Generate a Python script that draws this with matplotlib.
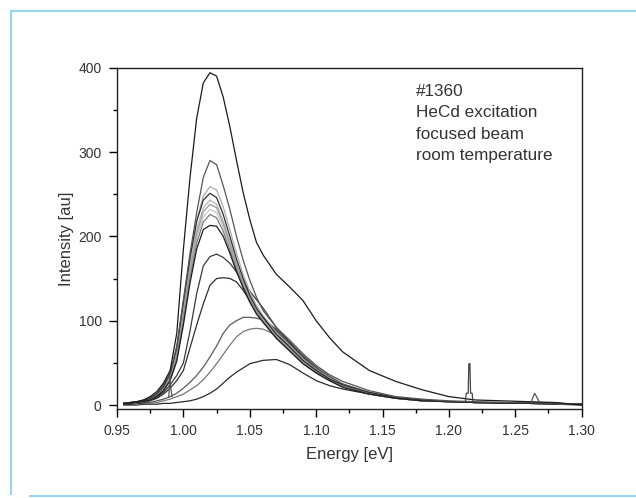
import matplotlib.pyplot as plt
from matplotlib.lines import Line2D
from matplotlib.ticker import MultipleLocator

plt.rcParams["font.family"] = ["Liberation Sans", "DejaVu Sans"]

# energy grid shared by all spectra [eV]
energy = [0.955, 0.960, 0.965, 0.970, 0.975, 0.980, 0.985, 0.990, 0.995, 1.000,
          1.005, 1.010, 1.015, 1.020, 1.025, 1.030, 1.035, 1.040, 1.045, 1.050,
          1.055, 1.060, 1.070, 1.080, 1.090, 1.100, 1.110, 1.120, 1.140, 1.160,
          1.180, 1.200, 1.220, 1.240, 1.260, 1.280, 1.300]

# intensity [au] of each spectrum
top = [2, 3, 4, 6, 10, 16, 26, 41, 85, 185, 270, 340, 382, 394, 390, 365, 330, 290, 252, 220,
       193, 178, 155, 140, 124, 100, 80, 63, 41, 28, 18, 10, 6, 5, 4, 3, 0]
second = [2, 3, 4, 6, 9, 14, 24, 38, 70, 125, 180, 228, 270, 290, 285, 260, 232, 200, 172, 148,
          128, 112, 92, 77, 61, 47, 36, 28, 17, 10, 7, 5, 4, 3, 3, 2, 1]
b1 = [2, 3, 4, 5, 8, 13, 22, 36, 65, 118, 172, 218, 248, 259, 255, 235, 208, 180, 155, 134,
      118, 106, 86, 71, 55, 42, 32, 24, 15, 9, 6, 4, 3, 3, 2, 2, 1]
b2 = [2, 3, 4, 5, 8, 13, 22, 37, 68, 122, 175, 218, 243, 251, 246, 226, 200, 173, 150, 130,
      115, 104, 84, 69, 53, 41, 31, 24, 15, 9, 6, 4, 3, 3, 2, 2, 1]
b3 = [2, 2, 3, 5, 7, 12, 20, 34, 62, 112, 165, 208, 234, 243, 238, 218, 194, 168, 146, 128,
      113, 102, 83, 68, 53, 40, 31, 23, 14, 9, 6, 4, 3, 2, 2, 2, 1]
b4 = [2, 2, 3, 5, 7, 12, 20, 33, 60, 108, 160, 203, 229, 238, 234, 215, 191, 166, 145, 127,
      112, 101, 82, 67, 52, 40, 30, 23, 14, 9, 6, 4, 3, 2, 2, 2, 1]
b5 = [2, 2, 3, 4, 7, 11, 19, 32, 58, 104, 155, 198, 223, 232, 228, 211, 188, 164, 143, 125,
      111, 100, 81, 66, 51, 39, 30, 22, 14, 8, 5, 4, 3, 2, 2, 2, 1]
b6 = [2, 2, 3, 4, 6, 11, 18, 30, 55, 100, 150, 192, 217, 226, 222, 206, 184, 161, 141, 124,
      110, 99, 80, 65, 50, 38, 29, 22, 13, 8, 5, 4, 3, 2, 2, 2, 1]
b7 = [2, 2, 3, 4, 6, 10, 17, 29, 52, 95, 145, 185, 208, 213, 212, 200, 180, 158, 139, 122,
      108, 98, 79, 64, 49, 38, 29, 21, 13, 8, 5, 4, 3, 2, 2, 2, 1]
c180 = [1, 2, 3, 4, 6, 9, 15, 24, 35, 50, 88, 132, 165, 176, 179, 175, 168, 158, 147, 135,
        125, 115, 92, 74, 57, 43, 32, 24, 14, 9, 6, 4, 3, 2, 2, 2, 1]
c152 = [1, 1, 2, 3, 5, 8, 13, 20, 29, 41, 68, 95, 120, 142, 150, 151, 150, 146, 136, 124,
        113, 104, 88, 72, 56, 42, 31, 23, 14, 8, 5, 4, 3, 2, 2, 1, 1]
c106 = [1, 1, 2, 2, 3, 5, 7, 10, 14, 20, 27, 35, 45, 57, 70, 85, 95, 100, 104, 104,
        103, 101, 90, 75, 59, 45, 34, 25, 15, 9, 6, 4, 3, 2, 2, 1, 1]
c93 = [0, 1, 1, 2, 2, 3, 5, 7, 10, 13, 18, 23, 30, 39, 49, 60, 71, 81, 87, 90,
       91, 90, 83, 72, 58, 45, 34, 25, 14, 9, 6, 4, 3, 2, 2, 1, 1]
c55 = [0, 0, 0, 1, 1, 1, 2, 2, 3, 4, 5, 7, 10, 14, 19, 26, 33, 39, 44, 49,
       51, 53, 54, 48, 38, 29, 23, 19, 13, 8, 5, 4, 3, 2, 2, 1, 0]

spectra = [c55, c93, c106, c152, c180, b5, b3, b1, b4, b6, b7, b2, second, top]
colors = ["#2a2a2a", "#777777", "#5a5a5a", "#2e2e2e", "#3a3a3a", "#c8c8c8", "#b4b4b4",
          "#acacac", "#9c9c9c", "#7a7a7a", "#1c1c1c", "#2c2c2c", "#555555", "#1a1a1a"]

# narrow laser / plasma lines
spike1_e = [0.9890, 0.9898, 0.9905, 0.9915]
spike1_i = [9, 34, 20, 10]
spike2_e = [1.2125, 1.2130, 1.2145, 1.2150, 1.2158, 1.2163, 1.2175, 1.2180]
spike2_i = [5, 14, 14, 49, 49, 14, 14, 5]
spike3_e = [1.2620, 1.2645, 1.2660, 1.2680]
spike3_i = [4, 14, 10, 4]

fig = plt.figure(figsize=(6.36, 4.98), dpi=100)
ax = fig.add_axes([0.184, 0.1787, 0.7306, 0.6854])

for spec, col in zip(spectra, colors):
    ax.plot(energy, spec, color=col, lw=0.9)
ax.plot(spike1_e, spike1_i, color="#555555", lw=0.9)
ax.plot(spike2_e, spike2_i, color="#444444", lw=0.9)
ax.plot(spike3_e, spike3_i, color="#555555", lw=0.9)

ax.set_xlim(0.95, 1.30)
ax.set_ylim(-4.7, 400)
ax.xaxis.set_major_locator(MultipleLocator(0.05))
ax.xaxis.set_minor_locator(MultipleLocator(0.025))
ax.yaxis.set_major_locator(MultipleLocator(100))
ax.yaxis.set_minor_locator(MultipleLocator(50))
ax.xaxis.set_major_formatter(plt.FormatStrFormatter("%.2f"))
ax.tick_params(which="major", direction="out", length=6, width=1, labelsize=10,
               labelcolor="#333333", pad=5)
ax.tick_params(which="minor", direction="out", length=3, width=1)
for s in ax.spines.values():
    s.set_linewidth(1.0)
    s.set_color("#222222")

ax.set_xlabel("Energy [eV]", fontsize=12, color="#333333", labelpad=6)
ax.set_ylabel("Intensity [au]", fontsize=12, color="#333333", labelpad=3)

ax.text(0.643, 0.952, "#1360\nHeCd excitation\nfocused beam\nroom temperature",
        transform=ax.transAxes, ha="left", va="top", fontsize=12.3,
        color="#333333", linespacing=1.52)

# light blue page frame
frame = dict(color="#96d4f2", lw=1.5, transform=None)
W, H = 636, 498
fig.add_artist(Line2D([11, 11], [H - 11, H - 494], **frame))
fig.add_artist(Line2D([11, W], [H - 11, H - 11], **frame))
fig.add_artist(Line2D([30, W], [H - 496, H - 496], **frame))

fig.savefig("out.png", dpi=100)
